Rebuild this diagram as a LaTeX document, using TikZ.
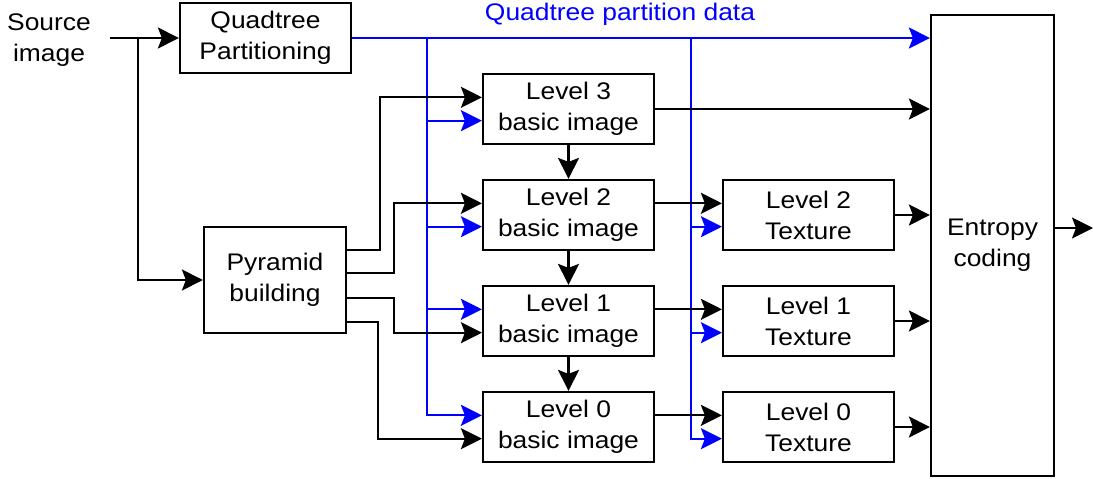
\documentclass[tikz,border=0pt]{standalone}
\usepackage{fontspec}
\setmainfont{Liberation Sans}[FakeStretch=1.1]
\usetikzlibrary{arrows.meta}
\begin{document}
\begin{tikzpicture}[x=1pt,y=-1pt,
  every node/.style={font=\fontsize{24}{31}\selectfont, align=center, inner sep=0pt},
  box/.style={draw, line width=2.2pt, minimum width=171pt, minimum height=70pt},
  con/.style={line width=2.2pt, -{Stealth[length=21pt,width=21pt,inset=4pt]}},
  bcon/.style={con, blue}]
\useasboundingbox (0,0) rectangle (1093,479);
% nodes
\node (srctxt) at (49,40) {Source\\image};
\node[box] (qt) at (265.5,38) {Quadtree\\Partitioning};
\node[box, minimum width=142pt, minimum height=106pt] (pyr) at (275,280) {Pyramid\\building};
\node[box] (L3) at (568.5,109) {Level 3\\basic image};
\node[box] (L2) at (568.5,215) {Level 2\\basic image};
\node[box] (L1) at (568.5,321) {Level 1\\basic image};
\node[box] (L0) at (568.5,427) {Level 0\\basic image};
\node[box] (T2) at (808.5,215) {Level 2\\Texture};
\node[box] (T1) at (808.5,321) {Level 1\\Texture};
\node[box] (T0) at (808.5,427) {Level 0\\Texture};
\node[box, minimum width=123pt, minimum height=461pt] (ent) at (992.5,245.5) {Entropy\\coding};
\node[text=blue] (qlab) at (620,14) {Quadtree partition data};
\coordinate (src) at (110,38);
\coordinate (br) at (138,38);
\coordinate (bl) at (427,38);
\coordinate (brr) at (691,38);
\coordinate (out) at (1093,228);
% source
\draw[con] (src) -- (qt.west);
\draw[con] (br) |- (pyr.west);
% quadtree partition data
\draw[bcon] (qt.east) -- (ent.west |- qt.east);
\draw[bcon] (bl) |- ([yshift=-11.67pt]L3.west);
\draw[bcon] (bl) |- ([yshift=-11.67pt]L2.west);
\draw[bcon] (bl) |- ([yshift=11.67pt]L1.west);
\draw[bcon] (bl) |- ([yshift=11.67pt]L0.west);
\draw[bcon] (brr) |- ([yshift=-11.67pt]T2.west);
\draw[bcon] (brr) |- ([yshift=-11.67pt]T1.west);
\draw[bcon] (brr) |- ([yshift=-11.67pt]T0.west);
% pyramid outputs
\draw[con] ([yshift=30pt]pyr.east) -- ++(33,0) |- ([yshift=11.67pt]L3.west);
\draw[con] ([yshift=7pt]pyr.east) -- ++(47,0) |- ([yshift=11.67pt]L2.west);
\draw[con] ([yshift=-18pt]pyr.east) -- ++(47,0) |- ([yshift=-11.67pt]L1.west);
\draw[con] ([yshift=-42pt]pyr.east) -- ++(31,0) |- ([yshift=-11.67pt]L0.west);
% level chain
\draw[con] (L3.south) -- (L2.north);
\draw[con] (L2.south) -- (L1.north);
\draw[con] (L1.south) -- (L0.north);
% basic image to texture
\draw[con] ([yshift=11.67pt]L2.east) -- ([yshift=11.67pt]T2.west);
\draw[con] ([yshift=11.67pt]L1.east) -- ([yshift=11.67pt]T1.west);
\draw[con] ([yshift=11.67pt]L0.east) -- ([yshift=11.67pt]T0.west);
% to entropy
\draw[con] (L3.east) -- (ent.west |- L3.east);
\draw[con] (T2.east) -- (ent.west |- T2.east);
\draw[con] (T1.east) -- (ent.west |- T1.east);
\draw[con] (T0.east) -- (ent.west |- T0.east);
\draw[con] (ent.east |- out) -- (out);
\end{tikzpicture}
\end{document}
